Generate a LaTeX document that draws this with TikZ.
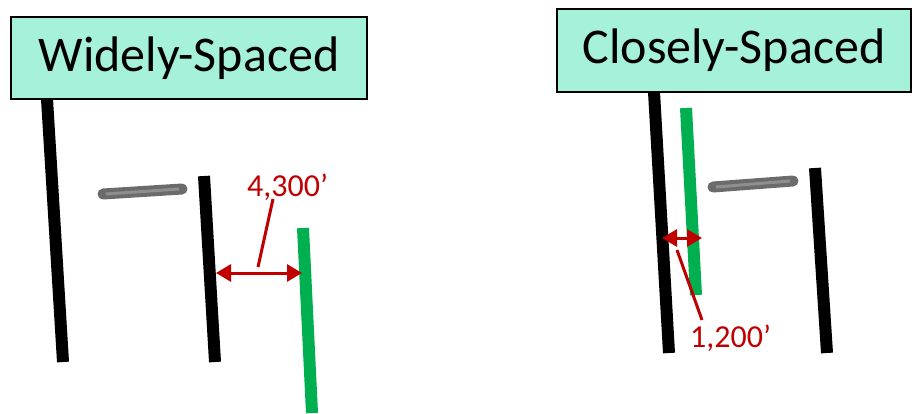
\documentclass[tikz,border=0pt]{standalone}
\usepackage{fontspec}
\setmainfont{Carlito}
\usetikzlibrary{arrows.meta}
\definecolor{boxfill}{HTML}{A6F1D9}
\definecolor{wellgreen}{HTML}{00B050}
\definecolor{dimred}{HTML}{C00000}
\definecolor{bargray}{HTML}{6B6B6B}
\definecolor{barlight}{HTML}{8E8E8E}
\tikzset{
  titlebox/.style={draw=black, line width=2pt, fill=boxfill, inner sep=0pt,
    font=\fontsize{50}{60}\selectfont},
  blackwell/.style={line width=12pt, black},
  greenwell/.style={line width=12pt, wellgreen},
  barouter/.style={line width=11pt, bargray, line cap=round},
  barinner/.style={line width=3pt, barlight},
  dimarrow/.style={line width=3pt, dimred, {Triangle[length=15pt,width=17pt]}-{Triangle[length=15pt,width=17pt]}},
  leader/.style={line width=3pt, dimred},
  dimlabel/.style={text=dimred, inner sep=0pt, font=\fontsize{32}{38}\selectfont}
}
\begin{document}
\begin{tikzpicture}[x=1pt,y=-1pt]
\useasboundingbox (0,0) rectangle (912,413);

% ---- widely spaced layout ----
\draw[blackwell] (47,99) -- (63,362);
\draw[blackwell] (204,176) -- (215,362);
\draw[greenwell] (303,228) -- (312,413);
\draw[barouter] (103,194) -- (182,189);
\draw[barinner] (106,194) -- (179,189);
\node[titlebox, minimum width=356pt, minimum height=82pt] (wide) at (189,58) {Widely-Spaced};

\coordinate (wa) at (216,273);
\coordinate (wb) at (302,273);
\draw[dimarrow] (wa) -- (wb);
\node[dimlabel, anchor=south west] (wlab) at (247,201) {4,300’};
\coordinate (wl1) at (258,267);
\coordinate (wl2) at (273,199);
\draw[leader] (wl1) -- (wl2);

% ---- closely spaced layout ----
\draw[blackwell] (654,92) -- (669,353);
\draw[greenwell] (686,108) -- (696,295);
\draw[blackwell] (815,168) -- (827,353);
\draw[barouter] (713,187) -- (793,181);
\draw[barinner] (716,187) -- (790,181);
\node[titlebox, minimum width=354pt, minimum height=83pt] (close) at (734,50.5) {Closely-Spaced};

\coordinate (ca) at (662,238);
\coordinate (cb) at (702,238);
\draw[dimarrow] (ca) -- (cb);
\coordinate (cl1) at (677,250);
\coordinate (cl2) at (702,320);
\draw[leader] (cl1) -- (cl2);
\node[dimlabel, anchor=north west] (clab) at (690,325) {1,200’};
\end{tikzpicture}
\end{document}
